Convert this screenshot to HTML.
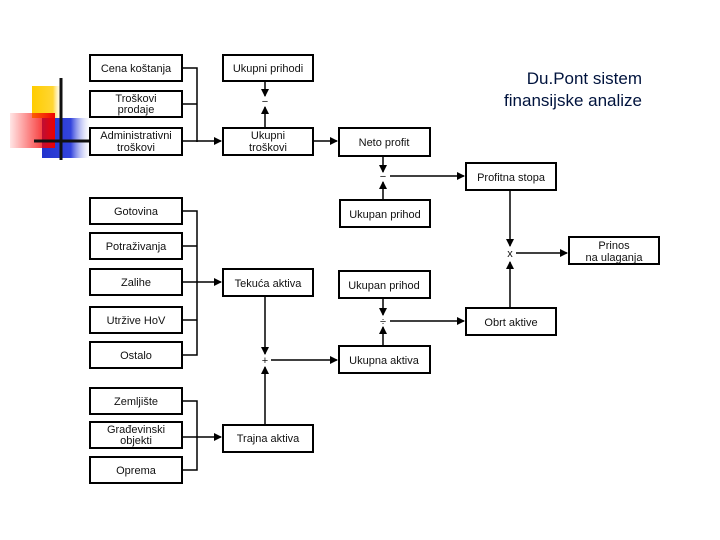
<!DOCTYPE html>
<html><head><meta charset="utf-8"><style>
html,body{margin:0;padding:0;background:#fff;}
svg{display:block;font-family:"Liberation Sans",Arial,sans-serif;}
</style></head><body>
<svg width="720" height="540" viewBox="0 0 720 540" xmlns="http://www.w3.org/2000/svg">
<defs>
<linearGradient id="gy" x1="0" x2="1"><stop offset="0" stop-color="#ffcc00"/><stop offset="0.7" stop-color="#ffd633"/><stop offset="1" stop-color="#fff" stop-opacity="0.2"/></linearGradient>
<linearGradient id="gr" x1="0" x2="1"><stop offset="0" stop-color="#ff0000" stop-opacity="0.1"/><stop offset="1" stop-color="#ee0000"/></linearGradient>
<linearGradient id="gb" x1="0" x2="1"><stop offset="0" stop-color="#2233cc"/><stop offset="0.6" stop-color="#3344dd"/><stop offset="1" stop-color="#fff" stop-opacity="0.3"/></linearGradient>
<marker id="a" markerWidth="8" markerHeight="8" refX="7" refY="4" orient="auto" markerUnits="userSpaceOnUse"><path d="M0,0 L8,4 L0,8z" fill="#000"/></marker>
</defs>
<rect x="32" y="86" width="30" height="32" fill="url(#gy)"/>
<rect x="42" y="118" width="48" height="40" fill="url(#gb)"/>
<rect x="10" y="113" width="45" height="35" fill="url(#gr)"/>
<line x1="61" y1="78" x2="61" y2="160" stroke="#111" stroke-width="3"/>
<line x1="34" y1="141" x2="92" y2="141" stroke="#111" stroke-width="3"/>
<text x="642" y="84" font-size="17" fill="#00133d" text-anchor="end">Du.Pont sistem</text>
<text x="642" y="106" font-size="17" fill="#00133d" text-anchor="end">finansijske analize</text>
<g fill="#fff" stroke="#000" stroke-width="2">
<rect x="90" y="55" width="92" height="26"/><rect x="90" y="91" width="92" height="26"/><rect x="90" y="128" width="92" height="27"/>
<rect x="223" y="55" width="90" height="26"/><rect x="223" y="128" width="90" height="27"/>
<rect x="339" y="128" width="91" height="28"/><rect x="340" y="200" width="90" height="27"/>
<rect x="466" y="163" width="90" height="27"/><rect x="569" y="237" width="90" height="27"/>
<rect x="466" y="308" width="90" height="27"/><rect x="339" y="271" width="91" height="27"/>
<rect x="339" y="346" width="91" height="27"/><rect x="223" y="269" width="90" height="27"/>
<rect x="223" y="425" width="90" height="27"/>
<rect x="90" y="198" width="92" height="26"/><rect x="90" y="233" width="92" height="26"/><rect x="90" y="269" width="92" height="26"/><rect x="90" y="307" width="92" height="26"/><rect x="90" y="342" width="92" height="26"/>
<rect x="90" y="388" width="92" height="26"/><rect x="90" y="422" width="92" height="26"/><rect x="90" y="457" width="92" height="26"/>
</g>
<g fill="none" stroke="#000" stroke-width="1.5">
<polyline points="182,68 197,68 197,142"/><line x1="182" y1="104" x2="197" y2="104"/><line x1="182" y1="141" x2="221" y2="141" marker-end="url(#a)"/>
<polyline points="182,211 197,211 197,355 182,355"/><line x1="182" y1="246" x2="197" y2="246"/><line x1="182" y1="320" x2="197" y2="320"/><line x1="182" y1="282" x2="221" y2="282" marker-end="url(#a)"/>
<polyline points="182,401 197,401 197,470 182,470"/><line x1="182" y1="437" x2="221" y2="437" marker-end="url(#a)"/>
<line x1="265" y1="81" x2="265" y2="96" marker-end="url(#a)"/><line x1="265" y1="128" x2="265" y2="107" marker-end="url(#a)"/>
<line x1="313" y1="141" x2="337" y2="141" marker-end="url(#a)"/>
<line x1="383" y1="156" x2="383" y2="172" marker-end="url(#a)"/><line x1="383" y1="200" x2="383" y2="182" marker-end="url(#a)"/>
<line x1="390" y1="176" x2="464" y2="176" marker-end="url(#a)"/>
<line x1="510" y1="190" x2="510" y2="246" marker-end="url(#a)"/><line x1="510" y1="308" x2="510" y2="262" marker-end="url(#a)"/>
<line x1="516" y1="253" x2="567" y2="253" marker-end="url(#a)"/>
<line x1="383" y1="298" x2="383" y2="315" marker-end="url(#a)"/><line x1="383" y1="346" x2="383" y2="327" marker-end="url(#a)"/>
<line x1="390" y1="321" x2="464" y2="321" marker-end="url(#a)"/>
<line x1="265" y1="296" x2="265" y2="354" marker-end="url(#a)"/><line x1="265" y1="425" x2="265" y2="367" marker-end="url(#a)"/>
<line x1="271" y1="360" x2="337" y2="360" marker-end="url(#a)"/>
</g>
<g font-size="11" text-anchor="middle" fill="#111">
<text x="136" y="72">Cena koštanja</text>
<text x="136" y="102">Troškovi</text><text x="136" y="113">prodaje</text>
<text x="136" y="139">Administrativni</text><text x="136" y="151">troškovi</text>
<text x="268" y="72">Ukupni prihodi</text>
<text x="268" y="139">Ukupni</text><text x="268" y="151">troškovi</text>
<text x="384" y="146">Neto profit</text>
<text x="385" y="218">Ukupan prihod</text>
<text x="511" y="181">Profitna stopa</text>
<text x="614" y="249">Prinos</text><text x="614" y="261">na ulaganja</text>
<text x="511" y="326">Obrt aktive</text>
<text x="384" y="289">Ukupan prihod</text>
<text x="384" y="364">Ukupna aktiva</text>
<text x="268" y="287">Tekuća aktiva</text>
<text x="268" y="442">Trajna aktiva</text>
<text x="136" y="215">Gotovina</text><text x="136" y="250">Potraživanja</text><text x="136" y="286">Zalihe</text><text x="136" y="324">Utržive HoV</text><text x="136" y="359">Ostalo</text>
<text x="136" y="405">Zemljište</text><text x="136" y="433">Građevinski</text><text x="136" y="444">objekti</text><text x="136" y="474">Oprema</text>
<text x="265" y="105">−</text><text x="383" y="180">−</text><text x="510" y="257">x</text><text x="383" y="325">÷</text><text x="265" y="364">+</text>
</g>
</svg>
</body></html>
